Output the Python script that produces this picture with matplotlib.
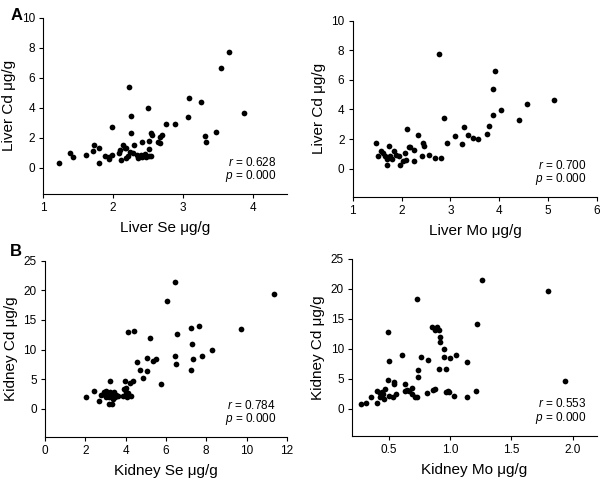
import matplotlib
matplotlib.use("Agg")
import matplotlib.pyplot as plt

plt.rcParams['font.family'] = ['Liberation Sans', 'DejaVu Sans']
plt.rcParams['mathtext.fontset'] = 'custom'
plt.rcParams['mathtext.rm'] = 'Liberation Sans'
plt.rcParams['mathtext.it'] = 'Liberation Sans:italic'

# panel A, liver Se vs liver Cd
liver_se = [3.66, 3.55, 2.23, 3.09, 3.26, 2.50, 3.88, 2.26, 3.08, 1.98, 2.76, 2.89,
            2.26, 2.54, 2.56, 2.70, 2.68, 2.64, 2.67, 3.32, 3.33, 3.47, 2.52, 2.42,
            2.30, 2.15, 2.17, 2.19, 2.10, 2.08, 2.24, 2.29, 2.34, 2.40, 2.46, 2.52,
            2.51, 2.54, 2.47, 2.36, 2.41, 2.22, 2.19, 2.12, 1.98, 1.95, 1.94, 1.89,
            1.80, 1.80, 1.73, 1.71, 1.62, 1.43, 1.38, 1.23]
liver_cd_se = [7.72, 6.62, 5.37, 4.68, 4.41, 3.98, 3.65, 3.45, 3.36, 2.73, 2.93, 2.89,
               2.30, 2.33, 2.15, 2.21, 2.03, 1.74, 1.66, 2.10, 1.74, 2.37, 1.79, 1.74,
               1.54, 1.50, 1.32, 1.30, 1.16, 0.98, 1.03, 0.99, 0.87, 0.87, 0.89, 1.25,
               0.76, 0.76, 0.74, 0.65, 0.69, 0.76, 0.65, 0.54, 0.87, 0.72, 0.58, 0.81,
               0.31, 1.32, 1.50, 1.14, 0.83, 0.72, 1.01, 0.28]

# panel A, liver Mo vs liver Cd
liver_mo = [2.76, 3.92, 3.88, 5.11, 4.57, 4.03, 3.88, 4.40, 2.86, 3.79, 3.75, 3.28,
            3.10, 3.36, 3.46, 3.56, 3.24, 2.93, 2.10, 2.34, 2.44, 2.45, 2.15, 2.17,
            1.74, 1.47, 1.57, 1.61, 1.52, 1.65, 1.70, 1.71, 1.77, 1.84, 1.81, 1.88,
            1.95, 1.96, 2.02, 2.06, 2.08, 2.26, 2.26, 2.42, 2.56, 2.68, 2.80]
liver_cd_mo = [7.72, 6.62, 5.36, 4.66, 4.37, 3.96, 3.60, 3.31, 3.42, 2.88, 2.32, 2.84,
               2.18, 2.27, 2.07, 2.03, 1.67, 1.71, 2.70, 2.30, 1.73, 1.55, 1.46, 1.44,
               1.50, 1.71, 1.17, 1.06, 0.83, 0.83, 0.63, 0.27, 0.87, 1.22, 0.65, 0.92,
               0.88, 0.27, 0.54, 1.06, 0.61, 1.26, 0.52, 0.86, 0.93, 0.75, 0.70]

# panel B, kidney Se vs kidney Cd
kidney_se = [6.45, 11.37, 6.06, 9.75, 4.13, 4.44, 7.66, 7.24, 6.53, 5.22, 7.31, 8.28,
             7.79, 7.34, 6.45, 6.50, 7.26, 5.08, 5.36, 5.51, 4.59, 4.72, 5.07, 4.85,
             5.74, 4.39, 4.21, 3.96, 3.25, 2.05, 2.41, 2.69, 2.76, 2.94, 3.05, 3.18,
             3.31, 3.37, 3.19, 3.15, 3.25, 3.34, 3.42, 3.52, 3.63, 3.47, 3.05, 2.97,
             3.91, 4.00, 4.13, 4.09, 4.29, 4.04, 3.88]
kidney_cd_se = [21.4, 19.4, 18.2, 13.5, 12.95, 13.1, 13.9, 13.6, 12.7, 11.9, 10.9, 9.85,
                8.84, 8.39, 8.9, 7.65, 6.53, 8.56, 8.16, 8.5, 7.88, 6.53, 6.36, 5.18,
                4.17, 4.73, 4.34, 4.67, 4.67, 1.97, 3.04, 1.35, 2.31, 2.81, 3.1, 0.79,
                0.84, 1.63, 1.97, 2.53, 2.8, 2.25, 2.8, 2.4, 2.25, 1.97, 1.97, 2.4,
                3.32, 2.9, 2.7, 1.97, 2.1, 3.5, 2.25]

# panel B, kidney Mo vs kidney Cd
kidney_mo = [1.26, 1.80, 0.73, 1.22, 0.49, 0.85, 0.88, 0.89, 0.91, 0.92, 0.92, 0.95,
             0.95, 1.00, 1.05, 1.14, 0.76, 0.82, 0.61, 0.50, 0.74, 0.74, 0.91, 0.97,
             0.49, 0.54, 0.54, 0.63, 1.94, 1.21, 1.14, 1.03, 0.98, 0.97, 0.99, 0.88,
             0.86, 0.81, 0.73, 0.71, 0.69, 0.69, 0.66, 0.65, 0.63, 0.56, 0.53, 0.50,
             0.47, 0.46, 0.45, 0.44, 0.43, 0.43, 0.40, 0.40, 0.35, 0.31, 0.27]
kidney_cd_mo = [21.4, 19.55, 18.3, 14.05, 12.8, 13.55, 13.1, 13.6, 13.2, 12.0, 11.05, 9.9,
                8.55, 8.5, 8.95, 7.8, 8.7, 8.2, 8.9, 7.95, 6.45, 5.3, 6.55, 6.6,
                4.83, 4.55, 4.2, 4.2, 4.7, 3.0, 1.95, 2.15, 3.0, 2.75, 2.85, 3.28,
                3.2, 2.56, 2.05, 1.9, 2.5, 3.4, 2.9, 3.1, 2.9, 2.4, 2.05, 2.2,
                3.25, 1.6, 2.5, 2.85, 2.6, 1.9, 2.9, 0.95, 2.05, 0.95, 0.85]

panels = [
    (liver_se, liver_cd_se, 'Liver Se μg/g', 'Liver Cd μg/g', (1, 4.5), [1, 2, 3, 4],
     (-1.75, 10), [0, 2, 4, 6, 8, 10], '0.628', '0.000', [0.072, 0.596, 0.407, 0.367]),
    (liver_mo, liver_cd_mo, 'Liver Mo μg/g', 'Liver Cd μg/g', (1, 6), [1, 2, 3, 4, 5, 6],
     (-1.9, 10), [0, 2, 4, 6, 8, 10], '0.700', '0.000', [0.588, 0.590, 0.407, 0.367]),
    (kidney_se, kidney_cd_se, 'Kidney Se μg/g', 'Kidney Cd μg/g', (0, 12), [0, 2, 4, 6, 8, 10, 12],
     (-4.7, 25), [0, 5, 10, 15, 20, 25], '0.784', '0.000', [0.075, 0.090, 0.403, 0.367]),
    (kidney_mo, kidney_cd_mo, 'Kidney Mo μg/g', 'Kidney Cd μg/g', (0.2, 2.2), [0.5, 1.0, 1.5, 2.0],
     (-4.5, 25), [0, 5, 10, 15, 20, 25], '0.553', '0.000', [0.587, 0.092, 0.408, 0.369]),
]

fig = plt.figure(figsize=(6, 4.8), dpi=100)

for xs, ys, xlab, ylab, xlim, xt, ylim, yt, r, p, pos in panels:
    ax = fig.add_axes(pos)
    ax.scatter(xs, ys, s=17, color='black', linewidths=0)
    ax.set_xlim(xlim)
    ax.set_ylim(ylim)
    ax.set_xticks(xt)
    if xt[0] == 0.5:
        ax.set_xticklabels(['%.1f' % v for v in xt])
    ax.set_yticks(yt)
    for s in ['top', 'right']:
        ax.spines[s].set_visible(False)
    ax.tick_params(labelsize=8.5, length=3, width=0.8, pad=3)
    ax.set_xlabel(xlab, fontsize=11, labelpad=5)
    ax.set_ylabel(ylab, fontsize=11, labelpad=4)
    ax.text(0.955, 0.18, '$r$ = ' + r, transform=ax.transAxes, ha='right', va='center', fontsize=8.5)
    ax.text(0.955, 0.10, '$p$ = ' + p, transform=ax.transAxes, ha='right', va='center', fontsize=8.5)

fig.text(0.017, 0.983, 'A', fontsize=12, fontweight='bold', va='top')
fig.text(0.017, 0.492, 'B', fontsize=12, fontweight='bold', va='top')

fig.savefig('out.png', dpi=100)
